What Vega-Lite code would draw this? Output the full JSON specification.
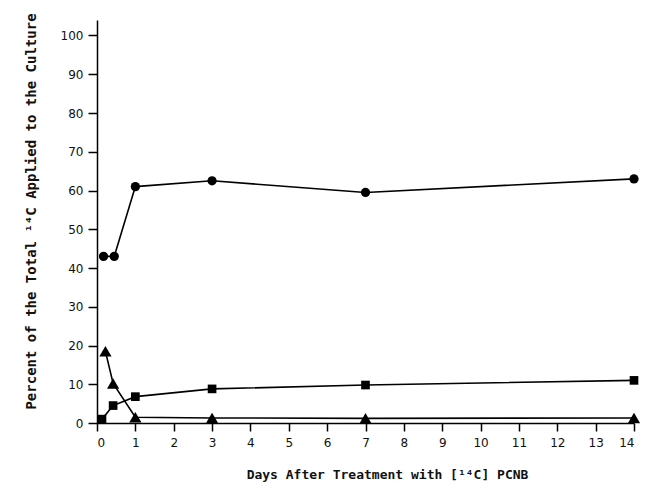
{
  "$schema": "https://vega.github.io/schema/vega-lite/v6.json",
  "width": 537,
  "height": 403,
  "autosize": {"type": "none"},
  "padding": {"left": 97, "top": 20, "right": 14, "bottom": 74},
  "background": "white",
  "config": {
    "view": {"stroke": null},
    "axis": {
      "labelFont": "DejaVu Sans",
      "titleFont": "DejaVu Sans Mono",
      "labelFontSize": 12,
      "titleFontWeight": "bold",
      "labelColor": "#111",
      "titleColor": "#111",
      "domainColor": "#000",
      "tickColor": "#000",
      "domainWidth": 1.5,
      "tickWidth": 1.5,
      "grid": false
    }
  },
  "data": {
    "values": [
      {"day": 0.17, "pct": 43, "series": "circle"},
      {"day": 0.45, "pct": 43, "series": "circle"},
      {"day": 1, "pct": 61, "series": "circle"},
      {"day": 3, "pct": 62.5, "series": "circle"},
      {"day": 7, "pct": 59.5, "series": "circle"},
      {"day": 14, "pct": 63, "series": "circle"},
      {"day": 0.13, "pct": 1, "series": "square"},
      {"day": 0.42, "pct": 4.5, "series": "square"},
      {"day": 1, "pct": 6.8, "series": "square"},
      {"day": 3, "pct": 8.8, "series": "square"},
      {"day": 7, "pct": 9.8, "series": "square"},
      {"day": 14, "pct": 11, "series": "square"},
      {"day": 0.22, "pct": 18.5, "series": "triangle-up"},
      {"day": 0.42, "pct": 10.2, "series": "triangle-up"},
      {"day": 1, "pct": 1.5, "series": "triangle-up"},
      {"day": 3, "pct": 1.3, "series": "triangle-up"},
      {"day": 7, "pct": 1.2, "series": "triangle-up"},
      {"day": 14, "pct": 1.3, "series": "triangle-up"}
    ]
  },
  "encoding": {
    "x": {
      "field": "day",
      "type": "quantitative",
      "scale": {"domain": [0, 14], "nice": false},
      "axis": {
        "values": [0,1,2,3,4,5,6,7,8,9,10,11,12,13,14],
        "tickSize": 8,
        "labelPadding": 6,
        "title": "Days After Treatment with [\u00b9\u2074C] PCNB",
        "titleFontSize": 13,
        "titleX": 290,
        "titlePadding": 20
      }
    },
    "y": {
      "field": "pct",
      "type": "quantitative",
      "scale": {"domain": [0, 104], "nice": false},
      "axis": {
        "values": [0,10,20,30,40,50,60,70,80,90,100],
        "tickSize": 9,
        "labelPadding": 5,
        "title": "Percent of the Total \u00b9\u2074C Applied to the Culture",
        "titleFontSize": 14,
        "titleY": 191,
        "titlePadding": 22
      }
    }
  },
  "layer": [
    {
      "mark": {"type": "line", "color": "#000", "strokeWidth": 1.6},
      "encoding": {"detail": {"field": "series"}}
    },
    {
      "transform": [{"filter": "datum.series === 'circle'"}],
      "mark": {"type": "point", "shape": "circle", "filled": true, "color": "#000", "opacity": 1, "size": 85}
    },
    {
      "transform": [{"filter": "datum.series === 'square'"}],
      "mark": {"type": "point", "shape": "square", "filled": true, "color": "#000", "opacity": 1, "size": 75}
    },
    {
      "transform": [{"filter": "datum.series === 'triangle-up'"}],
      "mark": {"type": "point", "shape": "triangle-up", "filled": true, "color": "#000", "opacity": 1, "size": 150}
    }
  ]
}
